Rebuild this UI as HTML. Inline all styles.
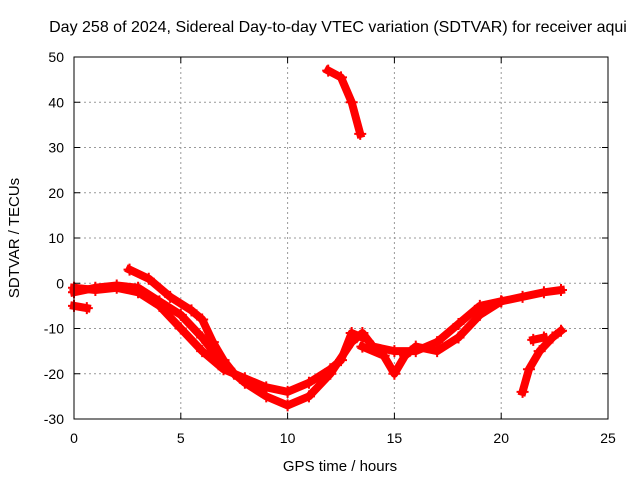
<!DOCTYPE html>
<html><head><meta charset="utf-8"><style>
body{margin:0;background:#fff;}
svg{display:block;font-family:"Liberation Sans",sans-serif;}
</style></head><body>
<svg id="chart" width="640" height="480">
<text x="338" y="32" font-size="16" text-anchor="middle">Day 258 of 2024, Sidereal Day-to-day VTEC variation (SDTVAR) for receiver aqui</text>
<text x="340" y="471" font-size="15" text-anchor="middle">GPS time / hours</text>
<text transform="translate(19,238) rotate(-90)" font-size="15" text-anchor="middle">SDTVAR / TECUs</text>
<g id="grid"></g><g id="series"></g><g id="axes"></g>
</svg>
<script>
const xTicks=[0,5,10,15,20,25];
const yTicks=[-30,-20,-10,0,10,20,30,40,50];
const trackA=[[0,-2],[1,-1],[2,-0.5],[3,-1],[4,-4],[5,-7],[6,-12],[7,-18],[8,-22],[9,-25],[10,-27],[11,-25],[12,-20],[13,-13],[13.5,-11],[14,-14],[15,-15],[16,-15],[17,-13],[18,-9],[19,-5],[20,-4],[21,-3],[22,-2],[22.8,-1.5]];
const trackB=[[2.6,3],[3.5,1],[4.5,-3],[5.5,-6],[6,-8],[6.5,-13],[7,-17],[7.5,-20]];
const trackC=[[0,-1],[1,-1.5],[2,-1],[3,-2],[4,-5],[5,-10],[6,-15],[7,-19],[8,-21],[9,-23],[10,-24],[11,-22],[12,-19],[12.5,-17],[13,-11],[13.5,-12]];
const trackD=[[13.5,-14],[14.5,-16],[15,-20],[15.5,-16],[16,-14],[17,-15],[18,-12],[19,-7],[20,-4]];
const trackE=[[11.9,47],[12.5,45.5],[13,40],[13.4,33]];
const trackF=[[21,-24],[21.3,-19],[21.8,-15],[22.4,-12],[22.8,-10.5]];
const trackG=[[0,-5],[0.6,-5.5]];
const trackH=[[21.5,-12.5],[22,-12]];
const tracks=[trackA,trackB,trackC,trackD,trackE,trackF,trackG,trackH];
const X0=74,X1=608,Y0=419,Y1=57;
const sx=v=>X0+(v-0)/(25-0)*(X1-X0);
const sy=v=>Y0-(v+30)/(80)*(Y0-Y1);
const NS='http://www.w3.org/2000/svg';
const grid=document.getElementById('grid'),axes=document.getElementById('axes'),ser=document.getElementById('series');
function mk(tag,attrs,parent){const e=document.createElementNS(NS,tag);for(const k in attrs)e.setAttribute(k,attrs[k]);parent.appendChild(e);return e;}
xTicks.forEach(t=>{
 if(t>0&&t<25){const g=mk('line',{x1:sx(t),x2:sx(t),y1:Y1,y2:Y0,stroke:'#999','stroke-dasharray':'2,3'},grid);
 
 }
 const l=mk('text',{x:sx(t),y:Y0+24,'font-size':14,'text-anchor':'middle'},axes);l.textContent=t;
 
 
 mk('line',{x1:sx(t),x2:sx(t),y1:Y0,y2:Y0-6,stroke:'#000'},axes);
 mk('line',{x1:sx(t),x2:sx(t),y1:Y1,y2:Y1+6,stroke:'#000'},axes);
});
yTicks.forEach(t=>{
 if(t>-30&&t<50){const g=mk('line',{x1:X0,x2:X1,y1:sy(t),y2:sy(t),stroke:'#999','stroke-dasharray':'2,3'},grid);
 
 }
 const l=mk('text',{x:X0-10,y:sy(t)+5,'font-size':14,'text-anchor':'end'},axes);l.textContent=t;
 
 
 mk('line',{x1:X0,x2:X0+6,y1:sy(t),y2:sy(t),stroke:'#000'},axes);
 mk('line',{x1:X1,x2:X1-6,y1:sy(t),y2:sy(t),stroke:'#000'},axes);
});
const fr=mk('rect',{x:X0,y:Y1,width:X1-X0,height:Y0-Y1,fill:'none',stroke:'#000'},axes);


tracks.forEach((tr,i)=>{
 const p=mk('polyline',{points:tr.map(d=>sx(d[0])+','+sy(d[1])).join(' '),fill:'none',stroke:'#f00','stroke-width':8,'stroke-linejoin':'round','stroke-linecap':'square'},ser);
 
 
 tr.forEach(d=>{
  const c=mk('path',{d:`M${sx(d[0])-6},${sy(d[1])}h12M${sx(d[0])},${sy(d[1])-6}v12`,stroke:'#f00','stroke-width':2},ser);
  
  
 });
});
</script>
</body></html>
